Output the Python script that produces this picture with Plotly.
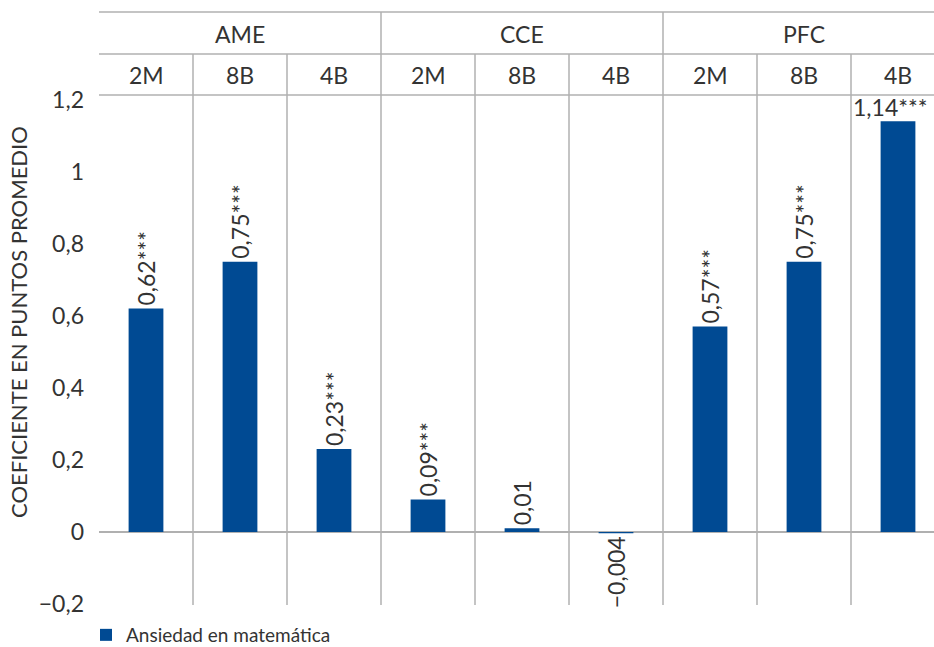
import plotly.graph_objects as go

# ---- data ----
groups = ["AME", "CCE", "PFC"]
subcats = ["2M", "8B", "4B"]
values = [0.62, 0.75, 0.23, 0.09, 0.01, -0.004, 0.57, 0.75, 1.14]
labels = ["0,62***", "0,75***", "0,23***", "0,09***", "0,01", "\u22120,004",
          "0,57***", "0,75***", "1,14***"]
series_name = "Ansiedad en matemática"
y_title = "COEFICIENTE EN PUNTOS PROMEDIO"
y_ticks = [-0.2, 0, 0.2, 0.4, 0.6, 0.8, 1, 1.2]

# ---- styling ----
BAR = "#004a93"
TXT = "#333333"
LINE = "#b0b0b0"
FONT = "Lato"

W, H = 934, 647
ml, mr, mt, mb = 99, 0, 95, 42
plot_h = H - mt - mb
col_px = 94.0
plot_w = W - ml - mr


def py(p):
    """pixel row -> paper y"""
    return (H - mb - p) / plot_h


n = len(values)
xs = list(range(n))
# last label drawn horizontally as annotation
bar_text = labels[:-1] + [""]

fig = go.Figure()
fig.add_trace(go.Bar(
    x=xs, y=values, name=series_name,
    marker=dict(color=BAR, line=dict(width=0)),
    width=0.37,
    text=bar_text, textposition="outside", textangle=-90,
    textfont=dict(family=FONT, size=23, color=TXT),
    constraintext="none", cliponaxis=False,
    hoverinfo="skip",
))

fig.add_annotation(
    x=xs[-1], y=values[-1], xref="x", yref="y", text=labels[-1],
    showarrow=False, yanchor="bottom", xanchor="right", xshift=32, yshift=-2,
    font=dict(family=FONT, size=23, color=TXT),
)

shapes = []
top_y = py(12)
mid_y = py(54)
x_left = -0.5
x_right = n - 0.5
# horizontal header lines
for yy in (top_y, mid_y, 1.0):
    shapes.append(dict(type="line", xref="x", yref="paper", x0=x_left, x1=x_right,
                       y0=yy, y1=yy, line=dict(color=LINE, width=1.5)))
# vertical column lines
for i in range(1, n):
    is_group = (i % len(subcats) == 0)
    shapes.append(dict(type="line", xref="x", yref="paper", x0=i - 0.5, x1=i - 0.5,
                       y0=0, y1=top_y if is_group else mid_y,
                       line=dict(color=LINE, width=1.5)))

# header labels
for gi, g in enumerate(groups):
    cx = gi * len(subcats) + (len(subcats) - 1) / 2
    fig.add_annotation(x=cx, y=py(34), xref="x", yref="paper", text=g,
                       showarrow=False, yanchor="middle",
                       font=dict(family=FONT, size=23, color=TXT))
    for si, s in enumerate(subcats):
        fig.add_annotation(x=gi * len(subcats) + si, y=py(75), xref="x", yref="paper",
                           text=s, showarrow=False, yanchor="middle",
                           font=dict(family=FONT, size=23, color=TXT))

# y axis title
fig.add_annotation(x=(18 - ml) / plot_w, y=py(322), xref="paper", yref="paper",
                   text=y_title, textangle=-90, showarrow=False,
                   xanchor="center", yanchor="middle",
                   font=dict(family=FONT, size=22, color=TXT))

fig.update_layout(
    width=W, height=H,
    margin=dict(l=ml, r=mr, t=mt, b=mb, pad=0, autoexpand=False),
    paper_bgcolor="white", plot_bgcolor="white",
    separators=",.",
    shapes=shapes,
    showlegend=True,
    legend=dict(orientation="h", xref="container", yref="container",
                x=86 / W, xanchor="left", y=1 - 635 / H, yanchor="middle",
                font=dict(family=FONT, size=19, color=TXT), bgcolor="rgba(0,0,0,0)"),
    xaxis=dict(range=[-0.5, -0.5 + plot_w / col_px], showticklabels=False,
               showgrid=False, zeroline=False, showline=False, ticks="",
               automargin=False),
    yaxis=dict(range=[-0.203, 1.213], tickvals=y_ticks, showgrid=False,
               zeroline=True, zerolinecolor=LINE, zerolinewidth=1.5,
               showline=False, ticks="", ticklabelstandoff=14, automargin=False,
               tickfont=dict(family=FONT, size=23, color=TXT)),
    font=dict(family=FONT, color=TXT),
)

fig.write_html("out.html",
               config={"displayModeBar": False, "staticPlot": True},
               post_script="document.body.style.margin='0';document.body.style.overflow='hidden';")
